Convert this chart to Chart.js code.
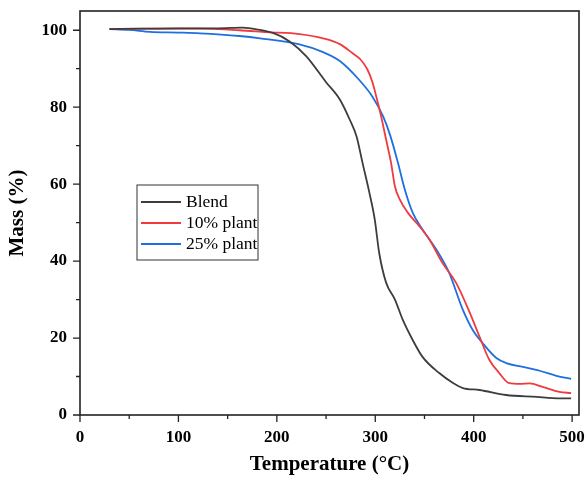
<!DOCTYPE html>
<html>
<head>
<meta charset="utf-8">
<script src="https://cdn.jsdelivr.net/npm/chart.js@4/dist/chart.umd.min.js"></script>
<style>
  html, body { margin: 0; padding: 0; background: #fff; }
  #wrap { width: 587px; height: 477px; }
</style>
</head>
<body>
<div id="wrap"><canvas id="c"></canvas></div>
<script>
// TGA curves
const blendTemp = [30, 60, 100, 140, 165, 175, 196, 213, 230, 250, 264, 274, 281, 287, 294, 299.5, 304, 311, 320, 328, 338, 348, 365, 379, 389, 406, 433, 464, 480, 499];
const blendMass = [100.3, 100.4, 100.5, 100.5, 100.7, 100.4, 99.3, 97.1, 93.2, 86.5, 82, 76.8, 72.4, 65.6, 57.8, 50.8, 42.1, 34.4, 30, 24.7, 19.5, 15.1, 10.9, 8.3, 7, 6.5, 5.2, 4.7, 4.4, 4.3];

const plant10Temp = [30, 80, 120, 162, 190, 223, 247, 264, 277, 285, 292, 297, 301, 306, 311, 316, 320, 325, 333, 345, 355, 368, 382, 396, 406, 416, 426, 436, 447, 457, 470, 487, 499];
const plant10Mass = [100.3, 100.4, 100.4, 100, 99.5, 99, 97.9, 96.4, 94, 92.4, 89.8, 86.6, 82.8, 77.6, 71.6, 65.6, 59.4, 56, 52.6, 49, 45.6, 39.6, 34.4, 26.6, 20.3, 14.3, 10.9, 8.3, 8.1, 8.2, 7.3, 6, 5.7];

const plant25Temp = [30, 50, 71, 100, 122, 162, 183, 223, 247, 264, 284, 297, 308, 315, 323, 330, 338, 348, 362, 375, 389, 399, 409, 423, 433, 450, 467, 484, 499];
const plant25Mass = [100.3, 100.1, 99.6, 99.4, 99.2, 98.5, 97.9, 96.3, 94.3, 92, 87, 82.8, 77.6, 72.8, 65.6, 58.6, 52.6, 48.2, 43, 37, 27.3, 22.1, 18.7, 14.8, 13.5, 12.5, 11.5, 10.2, 9.4];

const seriesNames = ['Blend', '10% plant', '25% plant'];
const seriesColors = ['#3d3d3d', '#ef3b3f', '#1e6fe0'];

const xTicks = [0, 100, 200, 300, 400, 500];
const yTicks = [0, 20, 40, 60, 80, 100];

const FONT = '"Liberation Serif", "Times New Roman", serif';

function pts(xs, ys) { return xs.map((x, i) => ({ x, y: ys[i] })); }

// frame, major/minor ticks and the boxed legend
const framePlugin = {
  id: 'frame',
  afterDraw(chart) {
    const { ctx, chartArea: a, scales: { x, y } } = chart;
    ctx.save();
    ctx.strokeStyle = '#222';
    ctx.lineWidth = 1.6;
    ctx.strokeRect(a.left, a.top, a.right - a.left, a.bottom - a.top);
    ctx.lineWidth = 1.3;
    ctx.beginPath();
    for (let v = 0; v <= 500; v += 50) {
      const px = x.getPixelForValue(v);
      const len = v % 100 === 0 ? 7 : 4;
      ctx.moveTo(px, a.bottom); ctx.lineTo(px, a.bottom + len);
    }
    for (let v = 0; v <= 100; v += 10) {
      const py = y.getPixelForValue(v);
      const len = v % 20 === 0 ? 7 : 4;
      ctx.moveTo(a.left, py); ctx.lineTo(a.left - len, py);
    }
    ctx.stroke();

    // legend box
    const bx = 137, by = 185, bw = 121, bh = 75;
    ctx.lineWidth = 1;
    ctx.strokeStyle = '#333';
    ctx.strokeRect(bx, by, bw, bh);
    ctx.font = '17.5px ' + FONT;
    ctx.textBaseline = 'middle';
    ctx.fillStyle = '#000';
    chart.data.datasets.forEach((ds, i) => {
      const ry = 202 + i * 21;
      ctx.strokeStyle = ds.borderColor;
      ctx.lineWidth = 2;
      ctx.beginPath(); ctx.moveTo(141, ry); ctx.lineTo(181, ry); ctx.stroke();
      ctx.fillText(ds.label, 186, ry);
    });
    ctx.restore();
  }
};

const datasets = [
  [blendTemp, blendMass],
  [plant10Temp, plant10Mass],
  [plant25Temp, plant25Mass]
].map(([xs, ys], i) => ({
  label: seriesNames[i],
  data: pts(xs, ys),
  borderColor: seriesColors[i],
  borderWidth: 1.8,
  pointRadius: 0,
  fill: false,
  cubicInterpolationMode: 'monotone'
}));

new Chart(document.getElementById('c'), {
  type: 'line',
  data: { datasets },
  options: {
    responsive: true, maintainAspectRatio: false, animation: false,
    layout: { padding: { left: 0, top: 11, right: 8, bottom: 0 } },
    plugins: { legend: { display: false }, tooltip: { enabled: false } },
    scales: {
      x: {
        type: 'linear', min: 0, max: 507,
        afterBuildTicks: s => { s.ticks = xTicks.map(v => ({ value: v })); },
        afterFit: s => { s.height = 62; s.paddingLeft = 0; s.paddingRight = 0; },
        grid: { display: false, drawTicks: false },
        border: { display: false },
        ticks: { color: '#000', padding: 12, maxRotation: 0, font: { family: FONT, size: 17, weight: 'bold' } },
        title: { display: true, text: 'Temperature (°C)', color: '#000', padding: { top: 0, bottom: 0 }, font: { family: FONT, size: 21, weight: 'bold' } }
      },
      y: {
        min: 0, max: 105,
        afterBuildTicks: s => { s.ticks = yTicks.map(v => ({ value: v })); },
        afterFit: s => { s.width = 80; s.paddingTop = 0; s.paddingBottom = 0; },
        grid: { display: false, drawTicks: false },
        border: { display: false },
        ticks: { color: '#000', padding: 13, font: { family: FONT, size: 17, weight: 'bold' } },
        title: { display: true, text: 'Mass (%)', color: '#000', padding: { top: 5, bottom: 0 }, font: { family: FONT, size: 21, weight: 'bold' } }
      }
    }
  },
  plugins: [framePlugin]
});
</script>
</body>
</html>
